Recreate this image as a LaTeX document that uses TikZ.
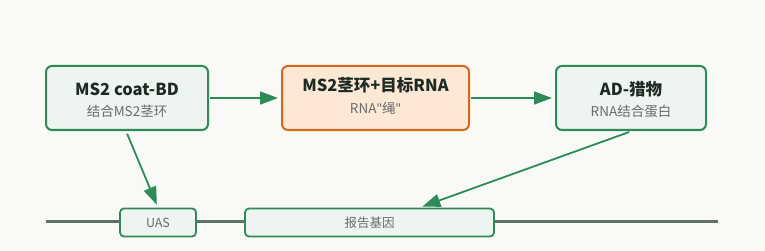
\documentclass[tikz,border=0pt]{standalone}
\usepackage{fontspec}
\setmainfont{Noto Sans CJK SC}
\newfontfamily\latf{Noto Sans}
\usetikzlibrary{arrows.meta,calc}
\definecolor{bg}{HTML}{F9FAF6}
\definecolor{grn}{HTML}{2E8B57}
\definecolor{gfill}{HTML}{EEF4EF}
\definecolor{org}{HTML}{D2691E}
\definecolor{ofill}{HTML}{FDE8D6}
\definecolor{dna}{HTML}{5E7366}
\definecolor{ttl}{HTML}{1E2A24}
\definecolor{sub}{HTML}{6B6B6B}
\tikzset{
  box/.style={draw=grn,fill=gfill,line width=2pt,rounded corners=6pt,inner sep=0pt},
  obox/.style={box,draw=org,fill=ofill},
  title/.style={font=\fontsize{16.5}{18}\selectfont\bfseries,text=ttl,inner sep=0pt},
  subt/.style={font=\fontsize{13.5}{15}\selectfont,text=sub,inner sep=0pt},
  elem/.style={draw=grn,fill=gfill,line width=1.8pt,rounded corners=4pt,inner sep=0pt,
    font=\fontsize{12.5}{14}\selectfont,text=sub},
  conn/.style={draw=grn,line width=1.8pt,-{Triangle[length=18pt,width=13pt]},
    shorten <=1pt,shorten >=3pt}
}
\begin{document}
\begin{tikzpicture}[x=1pt,y=-1pt]
\fill[bg] (0,0) rectangle (765,251);
\useasboundingbox (0,0) rectangle (765,251);
% DNA line
\coordinate (l0) at (46,221.5);
\coordinate (l1) at (718,221.5);
\draw[dna,line width=3pt] (l0) -- (l1);
% boxes
\node[box,minimum width=162pt,minimum height=64pt] (b1) at (127,98) {};
\node[title] (t1) at (127,89) {MS2 coat-BD};
\node[subt] (s1) at (127,111) {结合MS2茎环};
\node[obox,minimum width=187pt,minimum height=64pt] (b2) at (375.5,98) {};
\node[title] (t2) at (375.5,85) {MS2茎环+目标RNA};
\node[subt] (s2) at (375.5,108) {RNA{\latf"}绳{\latf"}};
\node[box,minimum width=150pt,minimum height=64pt] (b3) at (631,98) {};
\node[title] (t3) at (631,89) {AD-猎物};
\node[subt] (s3) at (631,111) {RNA结合蛋白};
% DNA elements
\node[elem,minimum width=76pt,minimum height=28pt] (uas) at (158,222.5) {UAS};
\node[elem,minimum width=249pt,minimum height=28pt] (rep) at (369.5,222.5) {报告基因};
% connectors
\draw[conn] (b1) -- (b2);
\draw[conn] (b2) -- (b3);
\draw[conn,shorten <=3pt] ([xshift=-1pt]b1.south) -- (uas.north);
\draw[conn,shorten <=3pt] ([xshift=1pt]b3.south) -- ([xshift=50pt]rep.north);
\end{tikzpicture}
\end{document}
